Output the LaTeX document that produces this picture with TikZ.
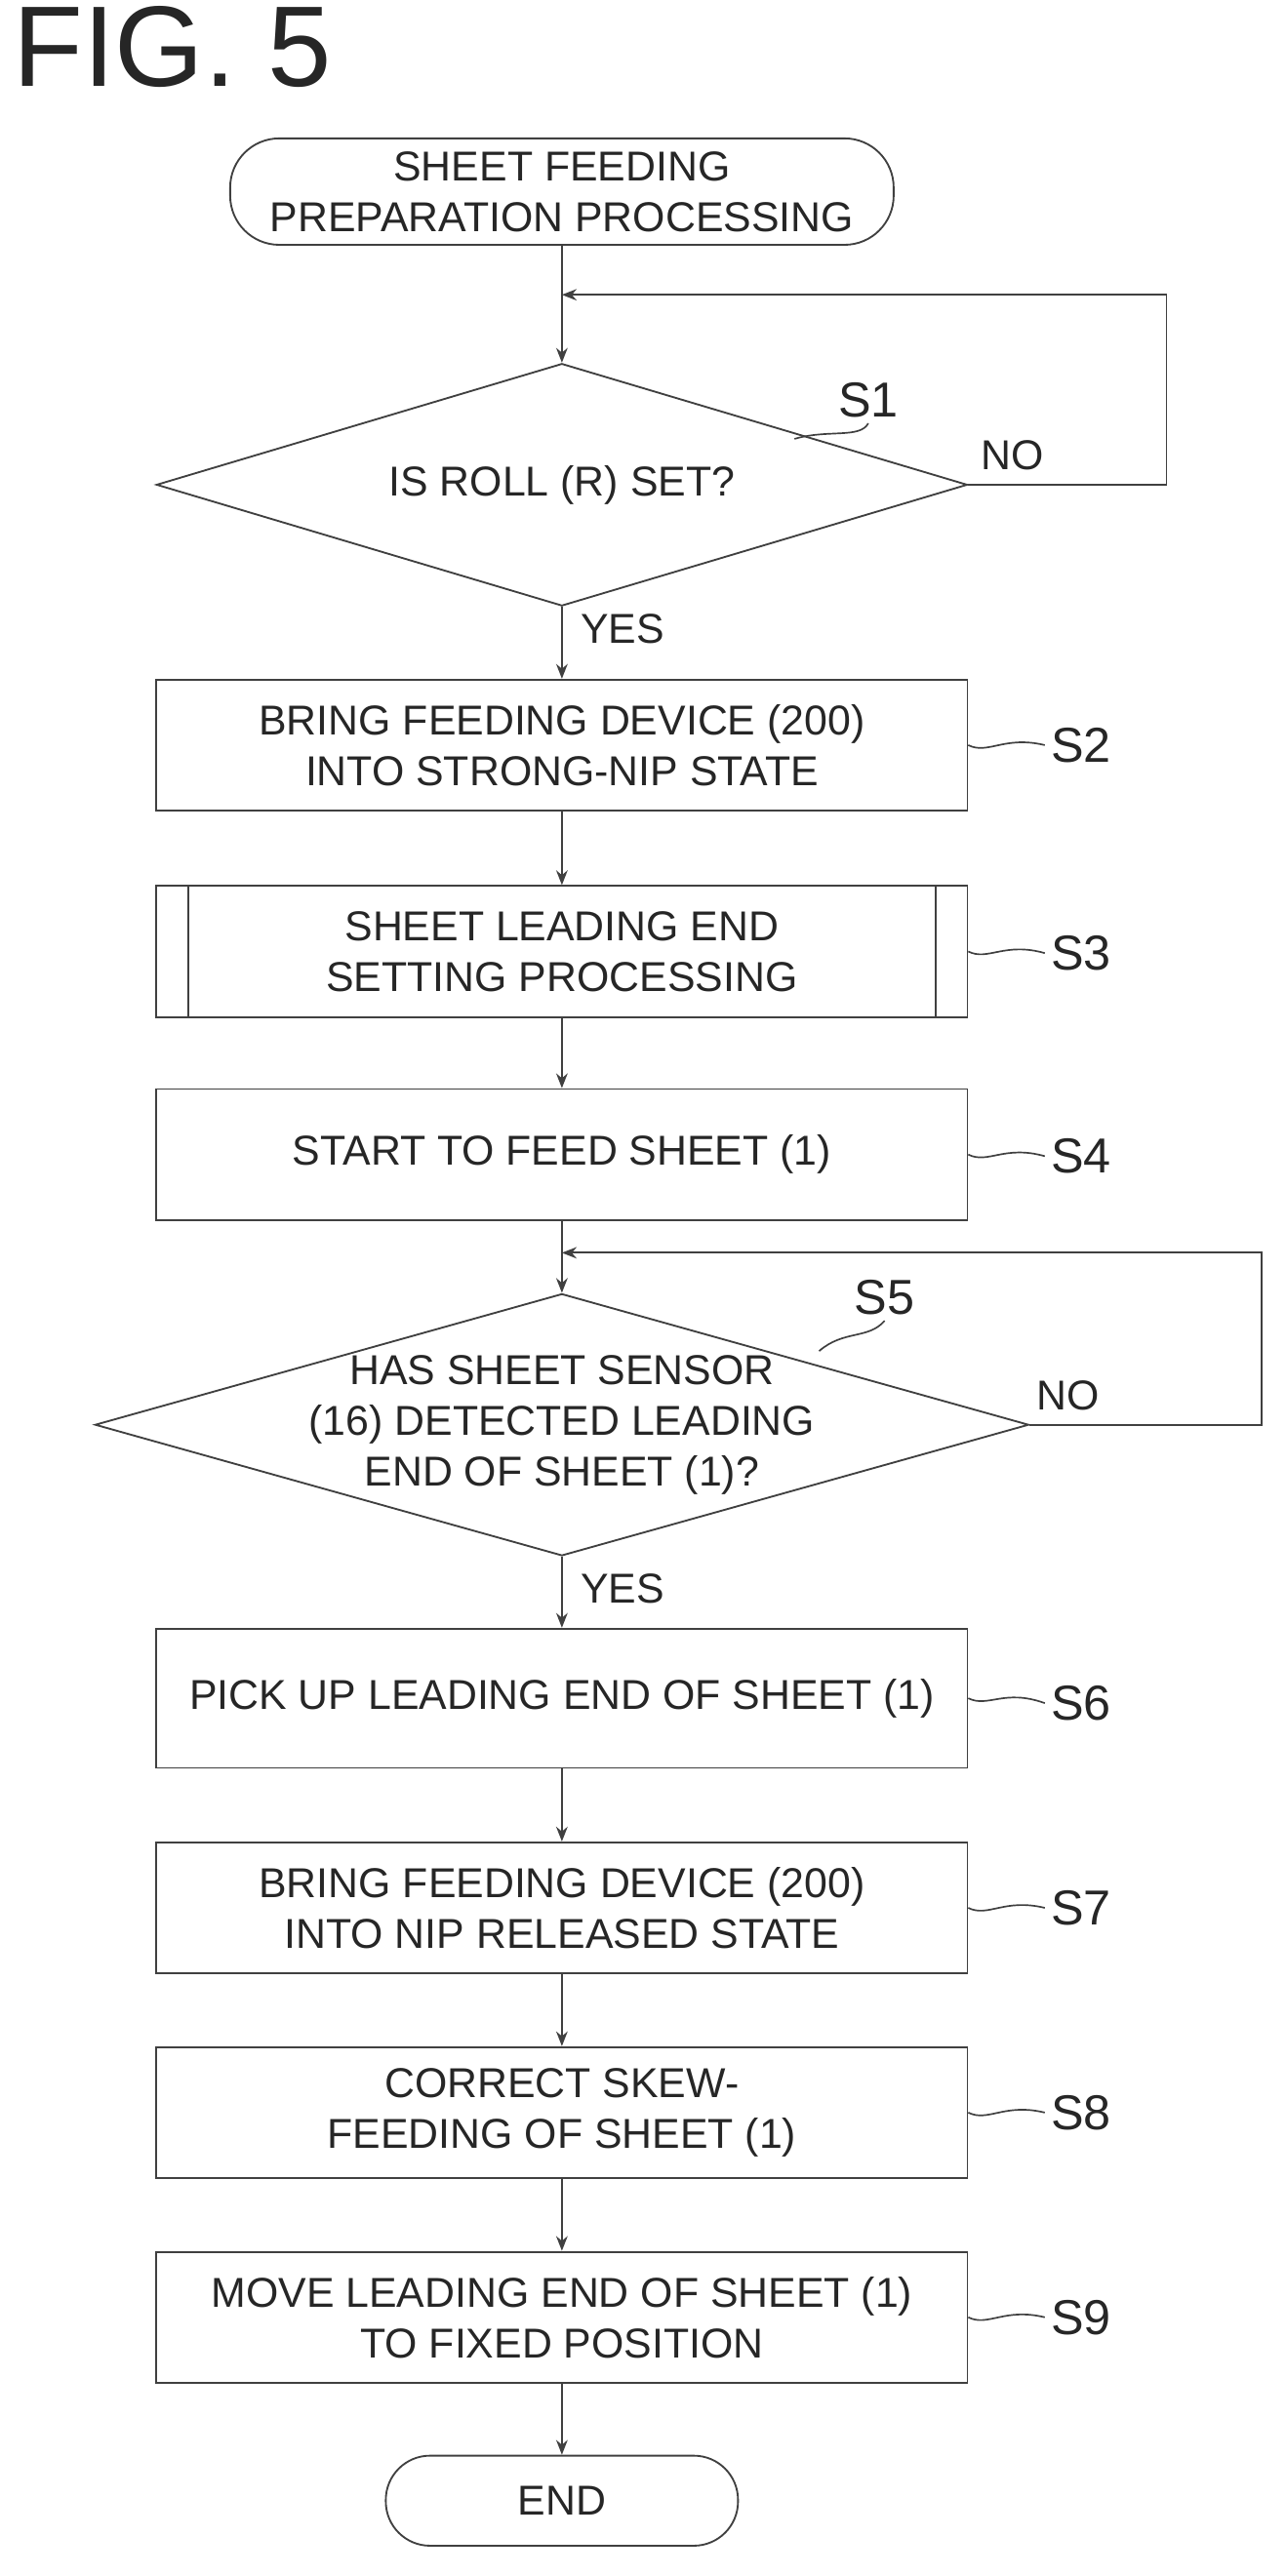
\documentclass[tikz,border=0pt]{standalone}
\usepackage{fontspec}
\setmainfont{Liberation Sans}
\usetikzlibrary{shapes.geometric,arrows.meta}
\begin{document}
\begin{tikzpicture}[x=1pt,y=-1pt,
  line width=1.1pt,draw=black!75,
  txt/.style={font=\fontsize{25.5}{31}\selectfont,text=black!85,align=center},
  box/.style={draw,txt,minimum width=495pt,minimum height=80pt,inner sep=0pt},
  term/.style={draw,txt,rounded corners=30pt,inner sep=0pt},
  lab/.style={font=\fontsize{30}{30}\selectfont,text=black!85},
  arr/.style={-{Stealth[length=9pt,width=7pt]}},
  lead/.style={line width=1pt}]
\useasboundingbox (0,0) rectangle (785,1573);
\node[anchor=north west,font=\fontsize{70}{70}\selectfont,text=black!85] (fig) at (4,0) {FIG. 5};
\node[term,minimum width=405pt,minimum height=65pt] (st) at (343,117) {SHEET FEEDING\\PREPARATION PROCESSING};
\coordinate (j1) at (343,180);
\node[draw,diamond,aspect=3.34,txt,minimum width=495pt,minimum height=148pt,inner sep=0pt] (d1) at (343,296) {IS ROLL (R) SET?};
\node[box] (s2) at (343,455) {BRING FEEDING DEVICE (200)\\INTO STRONG-NIP STATE};
\node[box] (s3) at (343,581) {SHEET LEADING END\\SETTING PROCESSING};
\draw ([xshift=20pt]s3.north west) -- ([xshift=20pt]s3.south west);
\draw ([xshift=-20pt]s3.north east) -- ([xshift=-20pt]s3.south east);
\node[box] (s4) at (343,705) {START TO FEED SHEET (1)};
\coordinate (j2) at (343,765);
\node[draw,diamond,aspect=3.56,txt,minimum width=570pt,minimum height=160pt,inner xsep=-45pt,inner ysep=-12pt] (d5) at (343,870) {HAS SHEET SENSOR\\(16) DETECTED LEADING\\END OF SHEET (1)?};
\node[box,minimum height=85pt] (s6) at (343,1037) {PICK UP LEADING END OF SHEET (1)};
\node[box] (s7) at (343,1165) {BRING FEEDING DEVICE (200)\\INTO NIP RELEASED STATE};
\node[box] (s8) at (343,1290) {CORRECT SKEW-\\FEEDING OF SHEET (1)};
\node[box] (s9) at (343,1415) {MOVE LEADING END OF SHEET (1)\\TO FIXED POSITION};
\node[term,minimum width=215pt,minimum height=55pt,rounded corners=27pt] (en) at (343,1527) {END};
% connectors
\draw (st) -- (j1);
\draw[arr] (j1) -- (d1.north);
\draw[arr] (d1.east) -- (712,296) -- (712,180) -- (j1);
\draw[arr] (d1.south) -- (s2);
\draw[arr] (s2) -- (s3);
\draw[arr] (s3) -- (s4);
\draw (s4) -- (j2);
\draw[arr] (j2) -- (d5.north);
\draw[arr] (d5.east) -- (770,870) -- (770,765) -- (j2);
\draw[arr] (d5.south) -- (s6);
\draw[arr] (s6) -- (s7);
\draw[arr] (s7) -- (s8);
\draw[arr] (s8) -- (s9);
\draw[arr] (s9) -- (en);
% labels
\node[txt] (no1) at (618,278) {NO};
\node[txt] (no5) at (652,852) {NO};
\node[txt] (y1) at (380,384) {YES};
\node[txt] (y5) at (380,970) {YES};
\node[lab] (l1) at (530,244) {S1};
\node[lab] (l5) at (540,792) {S5};
\node[lab] (l2) at (660,455) {S2};
\node[lab] (l3) at (660,582) {S3};
\node[lab] (l4) at (660,706) {S4};
\node[lab] (l6) at (660,1040) {S6};
\node[lab] (l7) at (660,1165) {S7};
\node[lab] (l8) at (660,1290) {S8};
\node[lab] (l9) at (660,1415) {S9};
\draw[lead] (l1.south) .. controls (525,268) and (505,262) .. (485,268);
\draw[lead] (l5.south) .. controls (530,818) and (515,812) .. (500,825);
\foreach \n/\b in {l2/s2,l3/s3,l4/s4,l6/s6,l7/s7,l8/s8,l9/s9}{
  \draw[lead] (\b.east) .. controls ([xshift=12pt,yshift=-6pt]\b.east) and ([xshift=22pt,yshift=6pt]\b.east) .. (\n.west);
}
\end{tikzpicture}
\end{document}
